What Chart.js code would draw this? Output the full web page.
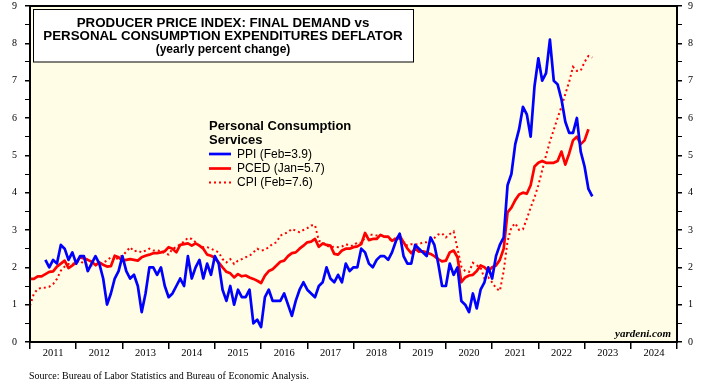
<!DOCTYPE html>
<html>
<head>
<meta charset="utf-8">
<script src="https://cdn.jsdelivr.net/npm/chart.js@4.4.1/dist/chart.umd.min.js"></script>
<style>
body { margin: 0; background: #fff; }
#wrap { width: 707px; height: 387px; }
</style>
</head>
<body>
<div id="wrap"><canvas id="myChart" width="707" height="387"></canvas></div>
<script>
// yearly percent change, one value per month; start = months after Jan 2011
var ppiStart = 4;
var ppiValues = [
    2.2, 2.0, 2.2, 2.1, 2.6, 2.5, 2.2, 2.4, 2.1, 2.3, 2.3, 1.9,
    2.1, 2.3, 2.1, 1.7, 1.0, 1.3, 1.7, 1.9, 2.3, 1.9, 1.7, 1.8,
    1.5, 0.8, 1.3, 2.0, 2.0, 1.8, 2.0, 1.5, 1.2, 1.3, 1.5, 1.7,
    1.5, 2.3, 1.7, 2.0, 2.2, 1.7, 2.1, 1.8, 2.3, 2.1, 1.4, 1.1,
    1.5, 1.0, 1.4, 1.2, 1.2, 1.4, 0.5, 0.6, 0.4, 1.2, 1.4, 1.1,
    1.1, 1.1, 1.3, 1.0, 0.7, 1.1, 1.4, 1.6, 1.4, 1.3, 1.2, 1.5,
    1.6, 2.0, 1.7, 1.6, 1.8, 1.6, 2.1, 1.9, 2.0, 2.0, 2.5, 2.4,
    2.1, 2.0, 2.2, 2.3, 2.3, 2.2, 2.4, 2.7, 2.9, 2.3, 2.1, 2.1,
    2.6, 2.5, 2.4, 2.3, 2.8, 2.6, 2.1, 1.5, 1.5, 2.1, 1.8, 2.0,
    1.1, 1.0, 0.8, 1.3, 0.9, 1.4, 1.6, 2.0, 1.7, 2.3, 2.6, 2.8,
    4.2, 4.5, 5.3, 5.7, 6.3, 6.1, 5.5, 6.85, 7.6, 7.0, 7.2, 8.1,
    7.0, 6.9, 6.5, 5.9, 5.6, 5.6, 6.0, 5.1, 4.7, 4.1, 3.9
];

var pcedStart = 0;
var pcedValues = [
    1.69, 1.69, 1.76, 1.76, 1.82, 1.88, 1.89, 2.02, 2.1, 2.18, 1.98, 2.05,
    2.13, 2.27, 2.24, 2.2, 2.15, 2.06, 2.13, 2.07, 2.02, 2.03, 2.31, 2.27,
    2.18, 2.2, 2.22, 2.2, 2.18, 2.27, 2.31, 2.34, 2.38, 2.38, 2.4, 2.43,
    2.54, 2.5, 2.4, 2.6, 2.62, 2.64, 2.58, 2.64, 2.58, 2.5, 2.34, 2.31,
    2.25, 2.13, 2.0, 1.88, 1.84, 1.73, 1.82, 1.76, 1.78, 1.73, 1.69, 1.64,
    1.58, 1.78, 1.9, 1.95, 2.05, 2.15, 2.18, 2.3, 2.38, 2.4, 2.5, 2.58,
    2.67, 2.69, 2.76, 2.55, 2.64, 2.6, 2.58, 2.36, 2.34, 2.45, 2.5, 2.5,
    2.54, 2.56, 2.62, 2.92, 2.73, 2.76, 2.76, 2.87, 2.82, 2.82, 2.71, 2.76,
    2.85, 2.67, 2.5, 2.38, 2.5, 2.42, 2.43, 2.4, 2.36, 2.3, 2.22, 2.16,
    2.18, 2.4, 2.45, 2.27, 1.6, 1.73, 1.78, 1.8, 1.9, 2.05, 2.0, 1.9,
    2.0, 2.05, 2.2, 2.5, 3.47, 3.6, 3.8, 3.95, 4.0, 3.97, 4.2, 4.7,
    4.8, 4.85, 4.8, 4.8, 4.8, 4.85, 5.1, 4.75, 5.05, 5.4, 5.5, 5.3,
    5.4, 5.7
];

var cpiStart = 0;
var cpiValues = [
    0.97, 1.29, 1.42, 1.45, 1.46, 1.48, 1.55, 1.69, 1.91, 2.02, 2.09, 2.09,
    2.13, 2.18, 2.09, 2.07, 2.05, 2.05, 2.09, 2.12, 2.18, 2.27, 2.18, 2.27,
    2.31, 2.42, 2.54, 2.43, 2.45, 2.4, 2.45, 2.5, 2.45, 2.46, 2.43, 2.38,
    2.34, 2.5, 2.54, 2.62, 2.69, 2.79, 2.76, 2.67, 2.58, 2.54, 2.54, 2.5,
    2.45, 2.4, 2.22, 2.13, 2.22, 2.09, 2.18, 2.22, 2.27, 2.31, 2.4, 2.5,
    2.45, 2.47, 2.54, 2.63, 2.67, 2.85, 2.9, 2.94, 3.03, 2.98, 2.94, 3.0,
    3.05, 3.12, 3.13, 2.71, 2.67, 2.58, 2.54, 2.55, 2.54, 2.56, 2.62, 2.58,
    2.58, 2.67, 2.65, 2.8, 2.88, 2.87, 2.85, 2.85, 2.85, 2.76, 2.73, 2.79,
    2.76, 2.67, 2.58, 2.62, 2.61, 2.62, 2.67, 2.67, 2.73, 2.79, 2.88, 2.91,
    2.8, 2.89, 2.96, 2.5, 2.02, 1.9, 1.88, 2.12, 2.05, 2.0, 1.7, 1.73,
    1.6, 1.44, 1.37, 1.9, 2.7, 3.07, 3.18, 3.0, 3.02, 3.3, 3.6, 3.87,
    4.2, 4.6, 5.0, 5.37, 5.68, 6.0, 6.3, 6.64, 6.97, 7.37, 7.26, 7.27,
    7.5, 7.66, 7.62
];

var yearLabels = ['2011', '2012', '2013', '2014', '2015', '2016', '2017',
                  '2018', '2019', '2020', '2021', '2022', '2023', '2024'];
var yMin = 0;
var yMax = 9;

var titleLines = [
    'PRODUCER PRICE INDEX: FINAL DEMAND vs',
    'PERSONAL CONSUMPTION EXPENDITURES DEFLATOR',
    '(yearly percent change)'
];
var legendHeading = ['Personal Consumption', 'Services'];
var seriesNames = ['PPI (Feb=3.9)', 'PCED (Jan=5.7)', 'CPI (Feb=7.6)'];
var sourceText = 'Source: Bureau of Labor Statistics and Bureau of Economic Analysis.';
var creditText = 'yardeni.com';

var SANS = "'Liberation Sans', Arial, sans-serif";
var SERIF = "'Liberation Serif', 'Times New Roman', serif";

function toPoints(start, values) {
    var pts = [];
    for (let i = 0; i < values.length; i++) {
        pts.push({ x: 2011 + (start + i) / 12, y: values[i] });
    }
    return pts;
}

var firstYear = parseInt(yearLabels[0]);
var lastYear = firstYear + yearLabels.length;

function yearTicks(scale) {
    var t = [];
    for (let y = firstYear; y <= lastYear; y++) {
        t.push({ value: y });
        if (y < lastYear) t.push({ value: y + 0.5 });
    }
    scale.ticks = t;
}

function halfTicks(scale) {
    var t = [];
    for (let v = yMin; v <= yMax; v += 0.5) t.push({ value: v });
    scale.ticks = t;
}

function noPad(s) {
    s.paddingTop = 0;
    s.paddingBottom = 0;
    s.paddingLeft = 0;
    s.paddingRight = 0;
}

function isWhole(ctx) {
    return ctx.tick && Number.isInteger(ctx.tick.value);
}

var decor = {
    id: 'decor',
    beforeDraw: function (chart) {
        var c = chart.ctx, a = chart.chartArea;
        c.save();
        c.fillStyle = '#fffde5';
        c.fillRect(a.left, a.top, a.right - a.left, a.bottom - a.top);
        c.restore();
    },
    afterDraw: function (chart) {
        var c = chart.ctx, a = chart.chartArea;
        c.save();
        // frame
        c.strokeStyle = '#000';
        c.lineWidth = 2;
        c.strokeRect(a.left, a.top, a.right - a.left, a.bottom - a.top);

        // title box
        c.fillStyle = '#fff';
        c.fillRect(33.5, 9.5, 380, 52.5);
        c.lineWidth = 1;
        c.strokeRect(33.5, 9.5, 380, 52.5);
        c.fillStyle = '#000';
        c.textAlign = 'center';
        c.textBaseline = 'middle';
        c.font = 'bold 13.3px ' + SANS;
        c.fillText(titleLines[0], 223, 23);
        c.fillText(titleLines[1], 223, 36);
        c.font = 'bold 12px ' + SANS;
        c.fillText(titleLines[2], 223, 50);

        // legend
        c.textAlign = 'left';
        c.font = 'bold 13px ' + SANS;
        c.fillText(legendHeading[0], 209, 126);
        c.fillText(legendHeading[1], 209, 140);
        c.font = '12px ' + SANS;
        var rows = [154, 168.5, 182.5];
        chart.data.datasets.forEach(function (ds, i) {
            c.beginPath();
            c.strokeStyle = ds.borderColor;
            c.lineWidth = ds.borderWidth;
            c.setLineDash(ds.borderDash || []);
            c.moveTo(209, rows[i]);
            c.lineTo(231, rows[i]);
            c.stroke();
            c.setLineDash([]);
            c.fillText(seriesNames[i], 237, rows[i] + 0.5);
        });

        // credit and source
        c.textAlign = 'right';
        c.font = 'italic bold 11px ' + SERIF;
        c.fillText(creditText, 671, 334);
        c.textAlign = 'left';
        c.font = '10px ' + SERIF;
        c.fillText(sourceText, 29, 376);
        c.restore();
    }
};

var ctx = document.getElementById('myChart');
var myChart = new Chart(ctx, {
    type: 'line',
    data: {
        datasets: [{
            label: seriesNames[0],
            data: toPoints(ppiStart, ppiValues),
            borderColor: '#0000ff',
            borderWidth: 2.7,
            borderJoinStyle: 'round',
            pointRadius: 0,
            order: 0
        }, {
            label: seriesNames[1],
            data: toPoints(pcedStart, pcedValues),
            borderColor: '#ff0000',
            borderWidth: 2.7,
            borderJoinStyle: 'round',
            pointRadius: 0,
            order: 1
        }, {
            label: seriesNames[2],
            data: toPoints(cpiStart, cpiValues),
            borderColor: '#ff0000',
            borderWidth: 2,
            borderDash: [2, 3],
            pointRadius: 0,
            order: 2
        }]
    },
    options: {
        responsive: false,
        animation: false,
        layout: { padding: { top: 6, left: 0, right: 0, bottom: 0 } },
        plugins: {
            legend: { display: false },
            title: { display: false },
            tooltip: { enabled: false }
        },
        scales: {
            x: {
                type: 'linear',
                min: firstYear,
                max: lastYear,
                afterBuildTicks: yearTicks,
                afterFit: function (s) { s.height = 45; noPad(s); },
                ticks: {
                    autoSkip: false,
                    maxRotation: 0,
                    padding: -2,
                    color: '#000',
                    font: { family: SERIF, size: 10.5 },
                    callback: function (v) {
                        return Number.isInteger(v) ? '' : yearLabels[Math.floor(v) - firstYear];
                    }
                },
                grid: {
                    drawOnChartArea: false,
                    tickLength: 7,
                    lineWidth: 1.5,
                    color: function (ctx) { return isWhole(ctx) ? '#000' : 'rgba(0,0,0,0)'; }
                },
                border: { display: false }
            },
            y: {
                position: 'left',
                min: yMin,
                max: yMax,
                afterBuildTicks: halfTicks,
                afterFit: function (s) { s.width = 30; noPad(s); },
                ticks: {
                    autoSkip: false,
                    padding: 8,
                    color: '#000',
                    font: { family: SERIF, size: 10 },
                    callback: function (v) { return Number.isInteger(v) ? v : ''; }
                },
                grid: {
                    drawOnChartArea: false,
                    tickLength: 5,
                    color: '#000',
                    lineWidth: function (ctx) { return isWhole(ctx) ? 1.5 : 1; }
                },
                border: { display: false }
            },
            y2: {
                position: 'right',
                min: yMin,
                max: yMax,
                afterBuildTicks: halfTicks,
                afterFit: function (s) { s.width = 30; noPad(s); },
                ticks: {
                    autoSkip: false,
                    padding: 6,
                    color: '#000',
                    font: { family: SERIF, size: 10 },
                    callback: function (v) { return Number.isInteger(v) ? v : ''; }
                },
                grid: {
                    drawOnChartArea: false,
                    tickLength: 5,
                    color: '#000',
                    lineWidth: function (ctx) { return isWhole(ctx) ? 1.5 : 1; }
                },
                border: { display: false }
            }
        }
    },
    plugins: [decor]
});
</script>
</body>
</html>
